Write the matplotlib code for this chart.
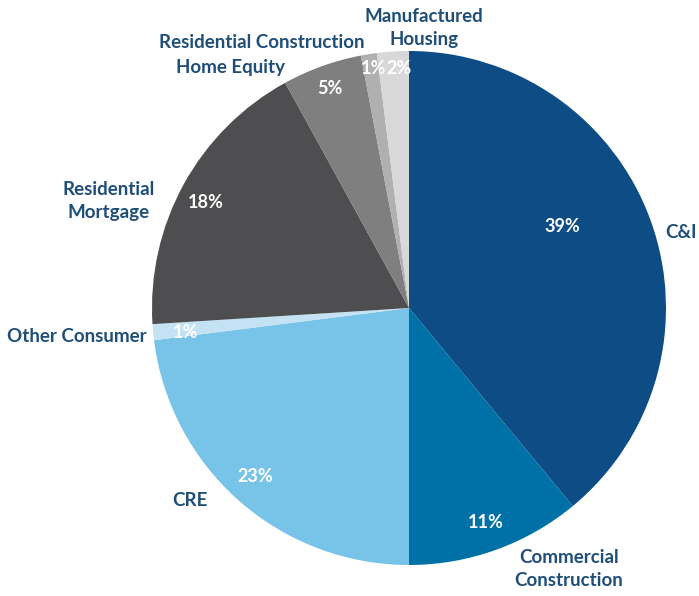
import matplotlib.pyplot as plt

plt.rcParams['font.family'] = ['Lato', 'DejaVu Sans']

# loan portfolio mix, clockwise from 12 o'clock
categories = ['C&I', 'Commercial Construction', 'CRE', 'Other Consumer',
              'Residential Mortgage', 'Home Equity', 'Residential Construction',
              'Manufactured Housing']
shares = [39, 11, 23, 1, 18, 5, 1, 2]
colors = ['#0E4C85', '#0071A7', '#78C3E8', '#C3E2F3',
          '#4E4E50', '#7F7F7F', '#B0B0B0', '#D8D8D8']

W, H = 699, 596
fig = plt.figure(figsize=(W / 100, H / 100), dpi=100)
ax = fig.add_axes([0, 0, 1, 1])

# pie drawn in flipped y, so counterclock=True reads clockwise on screen
wedges, _ = ax.pie(shares, colors=colors, startangle=-90, counterclock=True,
                   center=(409, 308), radius=257, frame=True,
                   wedgeprops=dict(linewidth=0))
ax.set_xlim(0, W)
ax.set_ylim(H, 0)
ax.set_aspect('auto')
ax.axis('off')

pct_pos = [(562, 226), (486, 523), (255, 477), (185, 332),
           (206, 202), (330, 88), (374, 68), (399, 68)]
for v, (x, y) in zip(shares, pct_pos):
    ax.text(x, y, f'{v}%', color='white', fontsize=13, fontweight='bold',
            ha='center', va='center')

label_color = '#1F4E79'
labels = [
    ('C&I', 681, 232),
    ('Commercial\nConstruction', 569, 569),
    ('CRE', 190, 501),
    ('Other Consumer', 77, 336),
    ('Residential\nMortgage', 109, 201),
    ('Home Equity', 230, 68),
    ('Residential Construction', 262, 42),
    ('Manufactured\nHousing', 424, 28),
]
for txt, x, y in labels:
    ax.text(x, y, txt, color=label_color, fontsize=13.5, fontweight='bold',
            ha='center', va='center', linespacing=1.4)

fig.savefig('out.png', dpi=100)
